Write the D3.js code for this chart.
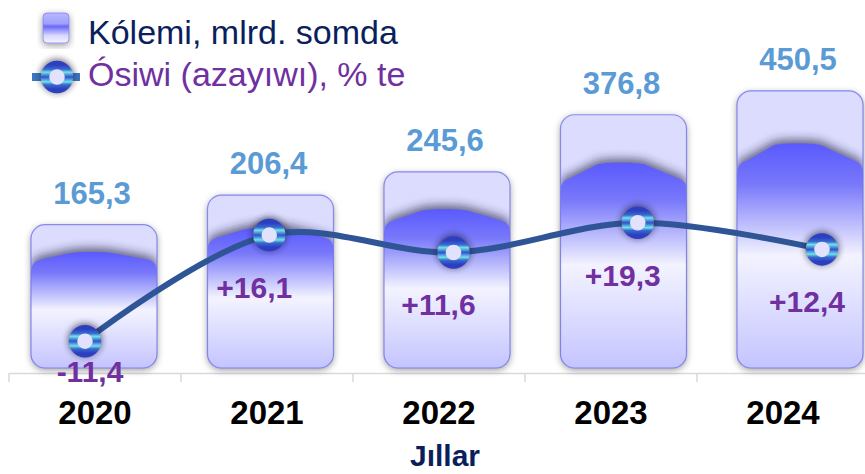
<!DOCTYPE html>
<html><head><meta charset="utf-8">
<script src="https://cdn.jsdelivr.net/npm/d3@7"></script>
<style>html,body{margin:0;padding:0;background:#fff;overflow:hidden}</style>
</head><body><svg id="c" width="865" height="474"></svg>
<script>
const years = ["2020", "2021", "2022", "2023", "2024"];
const volume = [165.3, 206.4, 245.6, 376.8, 450.5];
const volumeLabels = ["165,3", "206,4", "245,6", "376,8", "450,5"];
const growth = [-11.4, 16.1, 11.6, 19.3, 12.4];
const growthLabels = ["-11,4", "+16,1", "+11,6", "+19,3", "+12,4"];
const legendNames = ["Kólemi, mlrd. somda", "Ósiwi (azayıwı), % te"];
const axisTitle = "Jıllar";

const FONT = "Arial, 'Liberation Sans', sans-serif";
const svg = d3.select("#c");
const defs = svg.append("defs");

// scales
const baseY = 368, axisY = 373;
const xAxis = d3.scaleBand().domain(years).range([9, 869]);
const xBar = d3.scalePoint().domain(years).range([94, 800]);
const xLine = d3.scalePoint().domain(years).range([85, 822]);
const yBar = d3.scaleLog().domain([56.5, 500]).range([baseY, 77]);
const yLine = d3.scaleLinear().domain([-20, 25]).range([374.3, 200.8]);
const barW = 126;

// defs
const sh = defs.append("filter").attr("id", "barShadow").attr("x", "-20%").attr("y", "-20%").attr("width", "140%").attr("height", "140%");
sh.append("feDropShadow").attr("dx", 0).attr("dy", 2).attr("stdDeviation", 3.5).attr("flood-color", "#000").attr("flood-opacity", 0.4);
defs.append("filter").attr("id", "blur5").attr("x", "-30%").attr("y", "-30%").attr("width", "160%").attr("height", "160%")
  .append("feGaussianBlur").attr("stdDeviation", 5);
defs.append("filter").attr("id", "blur3").attr("x", "-50%").attr("y", "-50%").attr("width", "200%").attr("height", "200%")
  .append("feGaussianBlur").attr("stdDeviation", 3);

const roofGrad = defs.append("linearGradient").attr("id", "roofGrad").attr("x1", 0).attr("y1", 0).attr("x2", 0).attr("y2", 1);
[[0, "#5A5AFF"], [0.18, "#7878FA"], [0.5, "#F3F3FF"], [1, "#C4C4FF"]].forEach(s =>
  roofGrad.append("stop").attr("offset", s[0]).attr("stop-color", s[1]));

const ringGrad = defs.append("linearGradient").attr("id", "ringGrad").attr("x1", 0).attr("y1", 0).attr("x2", 0).attr("y2", 1);
[[0, "#2C3FC0"], [0.18, "#3A6AD0"], [0.3, "#70E4E4"], [0.42, "#4A8ADC"], [0.5, "#3450CC"], [0.58, "#4A8ADC"], [0.7, "#70E4E4"], [0.82, "#3A6AD0"], [1, "#2C3FC0"]].forEach(s =>
  ringGrad.append("stop").attr("offset", s[0]).attr("stop-color", s[1]));

const legGrad = defs.append("linearGradient").attr("id", "legGrad").attr("x1", 0).attr("y1", 0).attr("x2", 0).attr("y2", 1);
[[0, "#B8B8FF"], [0.35, "#A0A0FF"], [0.45, "#6A6AF6"], [0.75, "#D8D8FF"], [1, "#F4F4FF"]].forEach(s =>
  legGrad.append("stop").attr("offset", s[0]).attr("stop-color", s[1]));

// axis
const axisG = svg.append("g").attr("transform", `translate(0,${axisY})`)
  .call(d3.axisBottom(xAxis).tickSize(0).tickSizeOuter(0));
axisG.select(".domain").attr("stroke", "#D9D9D9").attr("stroke-width", 1.5);
axisG.selectAll("text").attr("y", 51).attr("dy", 0)
  .attr("font-family", FONT).attr("font-size", 33).attr("font-weight", "bold").attr("fill", "#000");
const bounds = years.map(d => xAxis(d)).concat([xAxis.range()[1]]);
axisG.selectAll("line.bt").data(bounds).enter().append("line").attr("class", "bt")
  .attr("x1", d => d).attr("x2", d => d).attr("y1", 0).attr("y2", 9)
  .attr("stroke", "#D9D9D9").attr("stroke-width", 1.5);

// bars
years.forEach((yr, i) => {
  const cx = xBar(yr), x0 = cx - barW / 2, x1 = cx + barW / 2;
  const yt = yBar(volume[i]), h = baseY - yt;
  const clipId = "clip" + i;
  defs.append("clipPath").attr("id", clipId).append("rect")
    .attr("x", x0).attr("y", yt).attr("width", barW).attr("height", h).attr("rx", 14);
  const g = svg.append("g");
  g.append("rect").attr("x", x0).attr("y", yt).attr("width", barW).attr("height", h).attr("rx", 14)
    .attr("fill", "#DCDCFF").attr("filter", "url(#barShadow)");
  const peakY = yt + 0.19 * h, sideY = yt + 0.26 * h;
  const pL = x0 + 0.36 * barW, pR = x0 + 0.60 * barW;
  const roof = `M${x0},${baseY} L${x0},${sideY + 10} Q${x0},${sideY} ${x0 + 10},${sideY - 2.5} ` +
    `L${pL - 8},${peakY + 1.5} Q${pL},${peakY} ${pL + 8},${peakY} L${pR - 8},${peakY} Q${pR},${peakY} ${pR + 8},${peakY + 1.5} ` +
    `L${x1 - 8},${sideY - 2} Q${x1},${sideY} ${x1},${sideY + 10} L${x1},${baseY} Z`;
  const inner = g.append("g").attr("clip-path", `url(#${clipId})`);
  inner.append("path").attr("d", roof).attr("transform", "translate(0,-4)")
    .attr("fill", "#202040").attr("opacity", 0.65).attr("filter", "url(#blur5)");
  inner.append("path").attr("d", roof).attr("fill", "url(#roofGrad)");
  g.append("rect").attr("x", x0).attr("y", yt).attr("width", barW).attr("height", h).attr("rx", 14)
    .attr("fill", "none").attr("stroke", "#7070F0").attr("stroke-width", 1.2).attr("stroke-opacity", 0.8);
  svg.append("text").attr("x", cx - 2).attr("y", yt - 21).attr("text-anchor", "middle")
    .attr("font-family", FONT).attr("font-size", 31).attr("font-weight", "bold").attr("fill", "#5B9BD5")
    .text(volumeLabels[i]);
});

// line
const pts = years.map((yr, i) => [xLine(yr), yLine(growth[i])]);
svg.append("path").attr("d", d3.line().curve(d3.curveCatmullRom.alpha(0.5))(pts))
  .attr("fill", "none").attr("stroke", "#2F5597").attr("stroke-width", 6).attr("stroke-linecap", "round");

function marker(g, x, y) {
  g.append("circle").attr("cx", x).attr("cy", y - 1).attr("r", 17).attr("fill", "#1a1a2a").attr("opacity", 0.6).attr("filter", "url(#blur3)");
  g.append("circle").attr("cx", x).attr("cy", y).attr("r", 12).attr("fill", "#E2E2FF")
    .attr("stroke", "url(#ringGrad)").attr("stroke-width", 8.5);
}
pts.forEach(p => marker(svg, p[0], p[1]));

// growth labels
pts.forEach((p, i) => {
  const neg = growth[i] < 0;
  svg.append("text").attr("x", p[0] + (neg ? 5 : -15)).attr("y", p[1] + (neg ? 41 : 63))
    .attr("text-anchor", "middle").attr("font-family", FONT).attr("font-size", 30).attr("font-weight", "bold")
    .attr("fill", "#7030A0").text(growthLabels[i]);
});

// legend
const lg = svg.append("g");
lg.append("rect").attr("x", 43).attr("y", 13).attr("width", 26).attr("height", 30).attr("rx", 4)
  .attr("fill", "url(#legGrad)").attr("stroke", "#8080F0").attr("stroke-width", 0.8).attr("filter", "url(#barShadow)");
lg.append("text").attr("x", 88).attr("y", 44).attr("font-family", FONT).attr("font-size", 34)
  .attr("fill", "#0A1F5C").text(legendNames[0]);
lg.append("line").attr("x1", 32).attr("x2", 80).attr("y1", 77).attr("y2", 77)
  .attr("stroke", "#3B78C2").attr("stroke-width", 8);
marker(lg, 57, 77);
lg.append("text").attr("x", 88).attr("y", 86).attr("font-family", FONT).attr("font-size", 34)
  .attr("fill", "#7030A0").text(legendNames[1]);

// axis title
svg.append("text").attr("x", 445).attr("y", 466).attr("text-anchor", "middle")
  .attr("font-family", FONT).attr("font-size", 30).attr("font-weight", "bold").attr("fill", "#0A1F5C")
  .text(axisTitle);
</script></body></html>
